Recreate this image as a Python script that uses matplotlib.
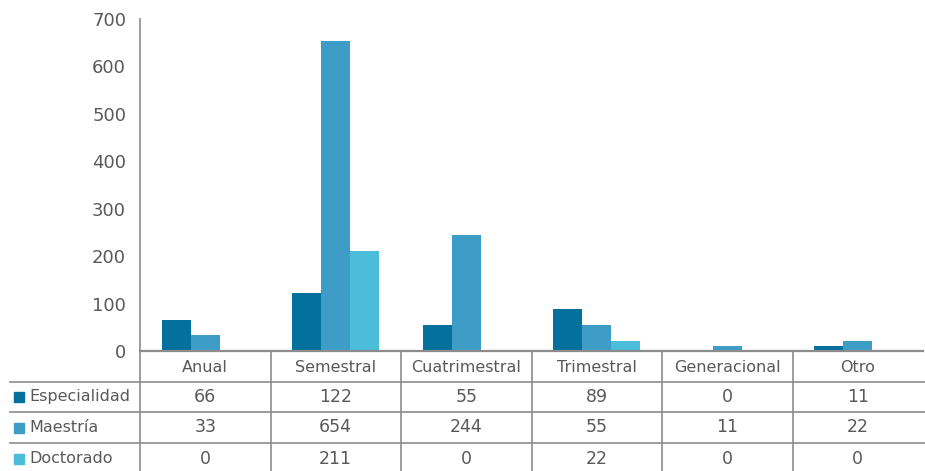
import matplotlib.pyplot as plt
import numpy as np
from matplotlib.patches import Rectangle

categories = ["Anual", "Semestral", "Cuatrimestral", "Trimestral", "Generacional", "Otro"]
series_names = ["Especialidad", "Maestría", "Doctorado"]
especialidad = [66, 122, 55, 89, 0, 11]
maestria = [33, 654, 244, 55, 11, 22]
doctorado = [0, 211, 0, 22, 0, 0]
y_ticks = [0, 100, 200, 300, 400, 500, 600, 700]

colors = ["#03719c", "#3d9dc6", "#4bbcda"]
text_col = "#595959"
line_col = "#8c8c8c"

W, H = 925, 471
fig = plt.figure(figsize=(W / 100, H / 100), dpi=100)
plt.rcParams['font.family'] = ['DejaVu Sans']

# pixel layout
x0, x1 = 140, 923
y_top, y_zero = 19, 351
colw = (x1 - x0) / len(categories)

ax = fig.add_axes([x0 / W, (H - y_zero) / H, (x1 - x0) / W, (y_zero - y_top) / H])
xs = np.arange(len(categories))
bw = 0.222
values = [especialidad, maestria, doctorado]
for k, vals in enumerate(values):
    ax.bar(xs + (k - 1) * bw, vals, width=bw, color=colors[k], zorder=2)
ax.set_xlim(-0.5, len(categories) - 0.5)
ax.set_ylim(0, 700)
ax.set_yticks(y_ticks)
ax.set_yticklabels([str(t) for t in y_ticks], fontsize=13, color=text_col)
ax.tick_params(axis='y', length=0, pad=10)
ax.set_xticks([])
for s in ["top", "right"]:
    ax.spines[s].set_visible(False)
ax.spines["left"].set_color(line_col)
ax.spines["bottom"].set_color(line_col)
ax.spines["left"].set_linewidth(1.2)
ax.spines["bottom"].set_linewidth(1.6)
ax.patch.set_alpha(0)

# data table below the plot
tab = fig.add_axes([0, 0, 1, (H - y_zero) / H])
tab.set_xlim(-0.5 - x0 / colw, -0.5 + (W - x0) / colw)
tab.set_ylim(H, y_zero)
tab.axis("off")

def px(xp):
    return -0.5 + (xp - x0) / colw

row_lines = [382, 412, 443, 474]
for yl in row_lines:
    tab.plot([px(10), px(W)], [yl, yl], color=line_col, lw=1.2, clip_on=False)
for k in range(len(categories)):
    tab.plot([k - 0.5, k - 0.5], [y_zero, H], color=line_col, lw=1.2)

for i, c in enumerate(categories):
    tab.text(i, (y_zero + row_lines[0]) / 2 + 1, c, ha="center", va="center",
             fontsize=11.5, color=text_col)

for r, name in enumerate(series_names):
    yc = (row_lines[r] + row_lines[r + 1]) / 2
    tab.add_patch(Rectangle((px(14), yc - 5), 10 / colw, 10, color=colors[r], clip_on=False))
    tab.text(px(29), yc, name, ha="left", va="center", fontsize=11.5, color=text_col)
    for i, v in enumerate(values[r]):
        tab.text(i, yc, str(v), ha="center", va="center", fontsize=12.5, color=text_col)

fig.savefig("out.png", dpi=100, facecolor="white")
